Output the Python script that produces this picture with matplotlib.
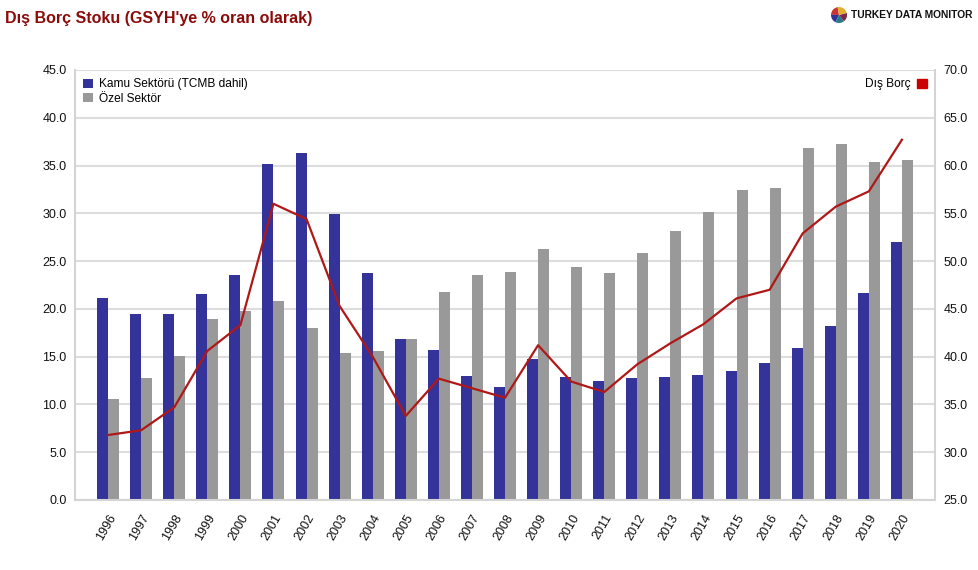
import matplotlib
matplotlib.use("Agg")
import matplotlib.pyplot as plt
import numpy as np

plt.rcParams['font.family'] = ['Liberation Sans', 'DejaVu Sans']

years = [str(y) for y in range(1996, 2021)]
kamu = [21.1, 19.5, 19.5, 21.6, 23.5, 35.2, 36.3, 29.9, 23.8, 16.9,
        15.7, 13.0, 11.8, 14.8, 12.9, 12.5, 12.8, 12.9, 13.1, 13.5,
        14.3, 15.9, 18.25, 21.7, 27.0]
ozel = [10.6, 12.8, 15.1, 18.9, 19.8, 20.8, 18.0, 15.4, 15.6, 16.8,
        21.8, 23.5, 23.9, 26.3, 24.4, 23.8, 25.9, 28.2, 30.1, 32.4,
        32.6, 36.8, 37.3, 35.4, 35.6]
dis_borc = [31.8, 32.3, 34.7, 40.6, 43.3, 56.0, 54.4, 45.3, 40.0, 33.8,
            37.7, 36.7, 35.7, 41.2, 37.4, 36.3, 39.2, 41.4, 43.4, 46.1,
            47.0, 52.9, 55.7, 57.3, 62.7]

BLUE = '#333399'
GRAY = '#999999'
RED = '#b01818'
GRID = '#dddddd'

fig = plt.figure(figsize=(9.79, 5.70), dpi=100)
ax = fig.add_axes([75/979, 1 - 500/570, 860/979, 430/570])

x = np.arange(len(years))
w = 1/3
ax.bar(x - w/2, kamu, w, color=BLUE, label='Kamu Sektörü (TCMB dahil)', zorder=2)
ax.bar(x + w/2, ozel, w, color=GRAY, label='Özel Sektör', zorder=2)

ax.set_xlim(-1, 25)
ax.set_ylim(0, 45)
ax.set_yticks(np.arange(0, 45.1, 5))
ax.set_yticklabels([f'{v:.1f}' for v in np.arange(0, 45.1, 5)])
ax.set_xticks(x)
ax.set_xticklabels(years, rotation=60, ha='right', rotation_mode='anchor')
ax.yaxis.grid(True, color=GRID, linewidth=1.5, zorder=0)
ax.set_axisbelow(True)
ax.tick_params(length=0, labelsize=9, colors='#111111')
ax.tick_params(axis='y', pad=6)
ax.tick_params(axis='x', pad=9)
for s in ['left', 'right', 'bottom']:
    ax.spines[s].set_color('#d4d4d4')
    ax.spines[s].set_linewidth(1.5)
ax.spines['top'].set_visible(False)

ax2 = ax.twinx()
ax2.plot(x, dis_borc, color=RED, linewidth=1.6, label='Dış Borç', zorder=3)
ax2.set_ylim(25, 70)
ax2.set_yticks(np.arange(25, 70.1, 5))
ax2.set_yticklabels([f'{v:.1f}' for v in np.arange(25, 70.1, 5)])
ax2.tick_params(length=0, labelsize=9, colors='#111111', pad=6)
for s in ['left', 'right', 'bottom', 'top']:
    ax2.spines[s].set_visible(False)

ax.legend(loc='upper left', frameon=False, fontsize=8.6, handlelength=0.8,
          handleheight=0.8, handletextpad=0.5, labelspacing=0.2,
          borderaxespad=0.3, bbox_to_anchor=(0.0, 1.0))
h = [plt.Rectangle((0, 0), 1, 1, color='#cc0000')]
ax2.legend(h, ['Dış Borç'], loc='upper right', frameon=False, fontsize=8.6,
           handlelength=0.8, handleheight=0.8, handletextpad=0.5,
           markerfirst=False, borderaxespad=0.3)

fig.text(5/979, 1 - 18/570, "Dış Borç Stoku (GSYH'ye % oran olarak)",
         color='#8b0a0a', fontsize=11.5, fontweight='bold', va='center', ha='left')

# logo
lax = fig.add_axes([829/979, 1 - 25/570, 20/979, 20/570])
lax.pie([1.2, 1, 1, 1, 1.3], colors=['#cc3333', '#333399', '#2a7a8a', '#7a2a4a', '#e0b030'],
        startangle=100)
lax.set_aspect('equal')
fig.text(851/979, 1 - 15/570, 'TURKEY DATA MONITOR', fontsize=7.4, fontweight='bold',
         va='center', ha='left', color='#111111')

fig.savefig('out.png', dpi=100)
